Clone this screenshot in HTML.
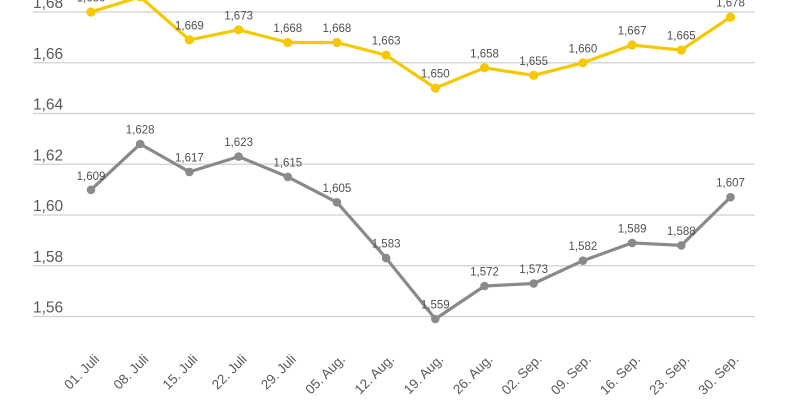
<!DOCTYPE html>
<html>
<head>
<meta charset="utf-8">
<style>
  html, body { margin: 0; padding: 0; background: #ffffff; }
  body { width: 800px; height: 400px; overflow: hidden; }
  svg { display: block; font-family: "Liberation Sans", "DejaVu Sans", sans-serif; }
</style>
</head>
<body>
<svg width="800" height="400" viewBox="0 0 800 400" xmlns="http://www.w3.org/2000/svg">
  <rect x="0" y="0" width="800" height="400" fill="#ffffff"/>
  <!-- gridlines -->
  <g stroke="#d0d0d0" stroke-width="1.3">
    <line x1="33" y1="12" x2="755" y2="12"/>
    <line x1="33" y1="62.75" x2="755" y2="62.75"/>
    <line x1="33" y1="113.5" x2="755" y2="113.5"/>
    <line x1="33" y1="164.25" x2="755" y2="164.25"/>
    <line x1="33" y1="215" x2="755" y2="215"/>
    <line x1="33" y1="265.75" x2="755" y2="265.75"/>
    <line x1="33" y1="316.5" x2="755" y2="316.5"/>
  </g>
  <!-- y axis labels -->
  <g fill="#595959" font-size="15.5">
    <text x="33" y="8">1,68</text>
    <text x="33" y="58.75">1,66</text>
    <text x="33" y="109.5">1,64</text>
    <text x="33" y="160.25">1,62</text>
    <text x="33" y="211">1,60</text>
    <text x="33" y="261.75">1,58</text>
    <text x="33" y="312.5">1,56</text>
  </g>

  <!-- yellow series -->
  <polyline fill="none" stroke="#f5c800" stroke-width="3.2" stroke-linejoin="round"
    points="91,12 140.2,-3.2 189.4,39.9 238.6,29.8 287.8,42.5 336.9,42.5 386.1,55.2 435.3,88.1 484.5,67.8 533.7,75.4 582.9,62.8 632.1,45.0 681.3,50.1 730.5,17.1"/>
  <g fill="#f5c800">
    <circle cx="91" cy="12" r="4.6"/>
    <circle cx="140.2" cy="-3.2" r="4.6"/>
    <circle cx="189.4" cy="39.9" r="4.6"/>
    <circle cx="238.6" cy="29.8" r="4.6"/>
    <circle cx="287.8" cy="42.5" r="4.6"/>
    <circle cx="336.9" cy="42.5" r="4.6"/>
    <circle cx="386.1" cy="55.2" r="4.6"/>
    <circle cx="435.3" cy="88.1" r="4.6"/>
    <circle cx="484.5" cy="67.8" r="4.6"/>
    <circle cx="533.7" cy="75.4" r="4.6"/>
    <circle cx="582.9" cy="62.8" r="4.6"/>
    <circle cx="632.1" cy="45.0" r="4.6"/>
    <circle cx="681.3" cy="50.1" r="4.6"/>
    <circle cx="730.5" cy="17.1" r="4.6"/>
  </g>
  <g fill="#505050" font-size="11.5" text-anchor="middle">
    <text x="91" y="1.5">1,680</text>
    <text x="189.4" y="29.4">1,669</text>
    <text x="238.6" y="19.3">1,673</text>
    <text x="287.8" y="32">1,668</text>
    <text x="336.9" y="32">1,668</text>
    <text x="386.1" y="44.7">1,663</text>
    <text x="435.3" y="77.6">1,650</text>
    <text x="484.5" y="57.3">1,658</text>
    <text x="533.7" y="64.9">1,655</text>
    <text x="582.9" y="52.3">1,660</text>
    <text x="632.1" y="34.5">1,667</text>
    <text x="681.3" y="39.6">1,665</text>
    <text x="730.5" y="6.6">1,678</text>
  </g>

  <!-- gray series -->
  <polyline fill="none" stroke="#8a8a8a" stroke-width="3.2" stroke-linejoin="round"
    points="91,189.8 140.2,144.0 189.4,171.9 238.6,156.6 287.8,176.9 336.9,202.3 386.1,258.1 435.3,319.0 484.5,286.0 533.7,283.5 582.9,260.7 632.1,242.9 681.3,245.4 730.5,197.2"/>
  <g fill="#8a8a8a">
    <circle cx="91" cy="189.8" r="4.3"/>
    <circle cx="140.2" cy="144.0" r="4.3"/>
    <circle cx="189.4" cy="171.9" r="4.3"/>
    <circle cx="238.6" cy="156.6" r="4.3"/>
    <circle cx="287.8" cy="176.9" r="4.3"/>
    <circle cx="336.9" cy="202.3" r="4.3"/>
    <circle cx="386.1" cy="258.1" r="4.3"/>
    <circle cx="435.3" cy="319.0" r="4.3"/>
    <circle cx="484.5" cy="286.0" r="4.3"/>
    <circle cx="533.7" cy="283.5" r="4.3"/>
    <circle cx="582.9" cy="260.7" r="4.3"/>
    <circle cx="632.1" cy="242.9" r="4.3"/>
    <circle cx="681.3" cy="245.4" r="4.3"/>
    <circle cx="730.5" cy="197.2" r="4.3"/>
  </g>
  <g fill="#505050" font-size="11.5" text-anchor="middle">
    <text x="91" y="180">1,609</text>
    <text x="140.2" y="133.5">1,628</text>
    <text x="189.4" y="161.4">1,617</text>
    <text x="238.6" y="146.1">1,623</text>
    <text x="287.8" y="166.4">1,615</text>
    <text x="336.9" y="191.8">1,605</text>
    <text x="386.1" y="247.6">1,583</text>
    <text x="435.3" y="308.5">1,559</text>
    <text x="484.5" y="275.5">1,572</text>
    <text x="533.7" y="273">1,573</text>
    <text x="582.9" y="250.2">1,582</text>
    <text x="632.1" y="232.4">1,589</text>
    <text x="681.3" y="234.9">1,588</text>
    <text x="730.5" y="186.7">1,607</text>
  </g>

  <!-- x axis labels -->
  <g fill="#595959" font-size="13.5" text-anchor="end">
    <text transform="translate(100,360) rotate(-45)">01. Juli</text>
    <text transform="translate(149.2,360) rotate(-45)">08. Juli</text>
    <text transform="translate(198.4,360) rotate(-45)">15. Juli</text>
    <text transform="translate(247.6,360) rotate(-45)">22. Juli</text>
    <text transform="translate(296.8,360) rotate(-45)">29. Juli</text>
    <text transform="translate(345.9,360) rotate(-45)">05. Aug.</text>
    <text transform="translate(395.1,360) rotate(-45)">12. Aug.</text>
    <text transform="translate(444.3,360) rotate(-45)">19. Aug.</text>
    <text transform="translate(493.5,360) rotate(-45)">26. Aug.</text>
    <text transform="translate(542.7,360) rotate(-45)">02. Sep.</text>
    <text transform="translate(591.9,360) rotate(-45)">09. Sep.</text>
    <text transform="translate(641.1,360) rotate(-45)">16. Sep.</text>
    <text transform="translate(690.3,360) rotate(-45)">23. Sep.</text>
    <text transform="translate(739.5,360) rotate(-45)">30. Sep.</text>
  </g>
</svg>
</body>
</html>
